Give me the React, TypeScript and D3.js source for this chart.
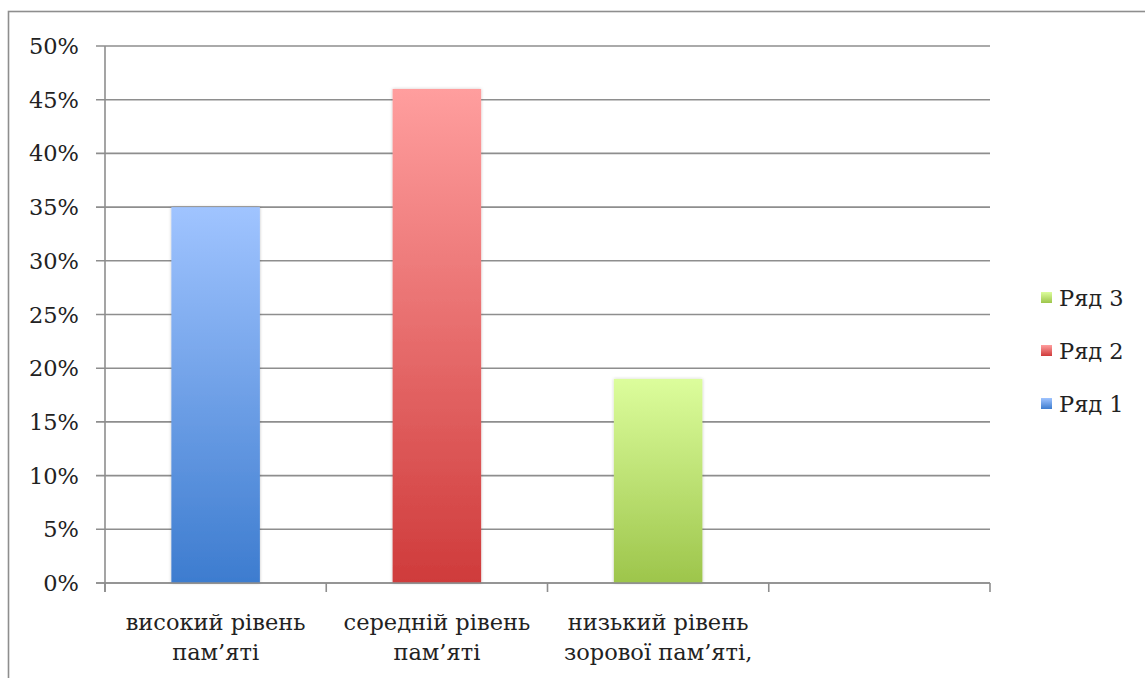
import React, { useEffect, useRef } from "react";
import * as d3 from "d3";

const categories = ["високий рівень пам’яті", "середній рівень пам’яті", "низький рівень зорової пам’яті,", ""];
const categoryLines = [
  ["високий рівень", "пам’яті"],
  ["середній рівень", "пам’яті"],
  ["низький рівень", "зорової пам’яті,"],
  [],
];
const seriesNames = ["Ряд 1", "Ряд 2", "Ряд 3"];
// each series has one value, in its own category
const seriesValues = [0.35, 0.46, 0.19];
const seriesTop = ["#a0c4ff", "#ff9e9e", "#dcfd9c"];
const seriesBottom = ["#3d7ccf", "#cf3b3b", "#9dc54b"];
const yTicks = [0, 0.05, 0.1, 0.15, 0.2, 0.25, 0.3, 0.35, 0.4, 0.45, 0.5];

const App: React.FC = () => {
  const svgRef = useRef<SVGSVGElement | null>(null);

  useEffect(() => {
    if (!svgRef.current) return;
    const width = 1145;
    const height = 678;
    const svg = d3.select(svgRef.current);
    svg.selectAll("*").remove();
    svg.attr("width", width).attr("height", height);

    const font = "'DejaVu Serif', 'Liberation Serif', serif";
    const fs = "22.5px";
    const gray = "#8e8e8e";

    // outer frame
    svg.append("rect")
      .attr("x", 8.5).attr("y", 11.5)
      .attr("width", width + 20).attr("height", height + 20)
      .attr("fill", "#fff").attr("stroke", gray).attr("stroke-width", 1.6);

    const margin = { left: 105, right: 990, top: 46, bottom: 583 };

    const x = d3.scaleBand<string>()
      .domain(categories.map((c, i) => String(i)))
      .range([margin.left, margin.right])
      .paddingInner(0).paddingOuter(0);
    const y = d3.scaleLinear().domain([0, 0.5]).range([margin.bottom, margin.top]);

    const defs = svg.append("defs");
    seriesNames.forEach((_, i) => {
      const g = defs.append("linearGradient")
        .attr("id", `grad${i}`)
        .attr("x1", 0).attr("y1", 0).attr("x2", 0).attr("y2", 1);
      g.append("stop").attr("offset", "0%").attr("stop-color", seriesTop[i]);
      g.append("stop").attr("offset", "100%").attr("stop-color", seriesBottom[i]);
    });
    const shadow = defs.append("filter").attr("id", "shadow")
      .attr("x", "-10%").attr("y", "-10%").attr("width", "120%").attr("height", "120%");
    shadow.append("feDropShadow")
      .attr("dx", 0).attr("dy", 0).attr("stdDeviation", 1.5)
      .attr("flood-color", "#000").attr("flood-opacity", 0.25);

    // gridlines
    svg.append("g")
      .selectAll("line")
      .data(yTicks)
      .enter()
      .append("line")
      .attr("x1", margin.left - 9)
      .attr("x2", margin.right)
      .attr("y1", (d) => y(d))
      .attr("y2", (d) => y(d))
      .attr("stroke", gray)
      .attr("stroke-width", 1.6);

    // y labels
    svg.append("g")
      .selectAll("text")
      .data(yTicks)
      .enter()
      .append("text")
      .attr("x", 79)
      .attr("y", (d) => y(d) + 8)
      .attr("text-anchor", "end")
      .style("font-family", font)
      .style("font-size", fs)
      .attr("fill", "#222")
      .text((d) => d3.format(".0%")(d));

    // bars
    const bw = x.bandwidth() * 0.4;
    svg.append("g")
      .selectAll("rect")
      .data(seriesValues)
      .enter()
      .append("rect")
      .attr("x", (d, i) => (x(String(i)) ?? 0) + (x.bandwidth() - bw) / 2)
      .attr("y", (d) => y(d))
      .attr("width", bw)
      .attr("height", (d) => y(0) - y(d))
      .attr("fill", (d, i) => `url(#grad${i})`)
      .attr("filter", "url(#shadow)");

    // axes
    svg.append("line")
      .attr("x1", margin.left).attr("x2", margin.left)
      .attr("y1", margin.top).attr("y2", margin.bottom + 9)
      .attr("stroke", gray).attr("stroke-width", 1.6);
    svg.append("line")
      .attr("x1", margin.left - 9).attr("x2", margin.right)
      .attr("y1", margin.bottom).attr("y2", margin.bottom)
      .attr("stroke", gray).attr("stroke-width", 1.6);
    const tickXs = categories.map((c, i) => x(String(i)) ?? 0).concat([margin.right]);
    svg.append("g")
      .selectAll("line")
      .data(tickXs)
      .enter()
      .append("line")
      .attr("x1", (d) => d).attr("x2", (d) => d)
      .attr("y1", margin.bottom).attr("y2", margin.bottom + 9)
      .attr("stroke", gray).attr("stroke-width", 1.6);

    // category labels
    categoryLines.forEach((lines, i) => {
      const cx = (x(String(i)) ?? 0) + x.bandwidth() / 2;
      lines.forEach((line, j) => {
        svg.append("text")
          .attr("x", cx)
          .attr("y", 630 + j * 30)
          .attr("text-anchor", "middle")
          .style("font-family", font)
          .style("font-size", fs)
          .attr("fill", "#222")
          .text(line);
      });
    });

    // legend, reversed order
    const legend = svg.append("g")
      .selectAll("g")
      .data(seriesNames.map((n, i) => ({ n, i })).reverse())
      .enter()
      .append("g")
      .attr("transform", (d, k) => `translate(1041,${292 + k * 53})`);
    legend.append("rect")
      .attr("width", 11).attr("height", 11)
      .attr("fill", (d) => `url(#grad${d.i})`);
    legend.append("text")
      .attr("x", 18).attr("y", 14)
      .style("font-family", font)
      .style("font-size", fs)
      .attr("fill", "#222")
      .text((d) => d.n);
  }, []);

  return <svg ref={svgRef} style={{ position: "absolute", left: 0, top: 0 }}></svg>;
};

export default App;
